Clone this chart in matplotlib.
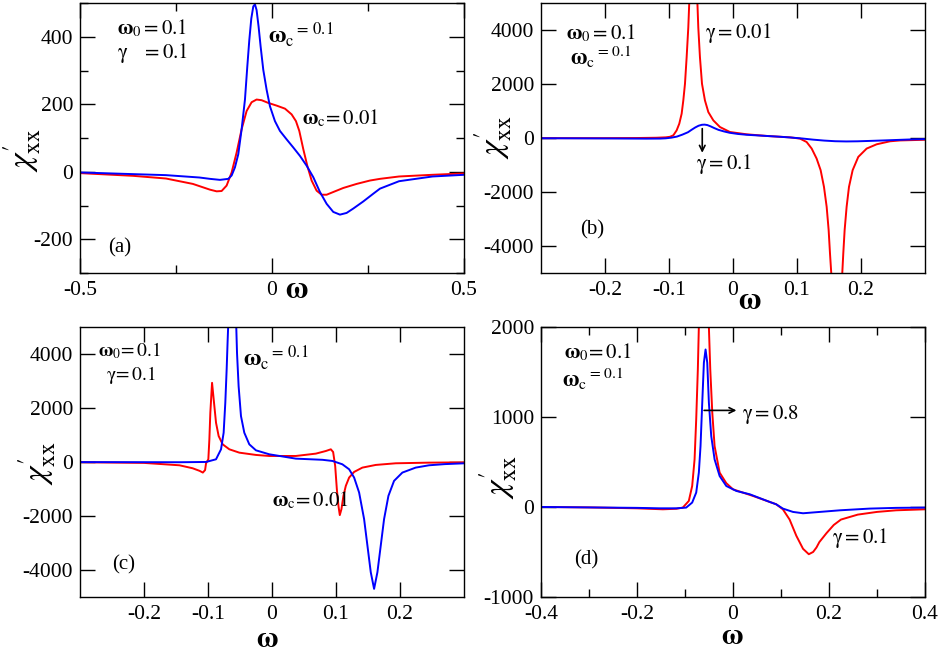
import matplotlib
matplotlib.use("Agg")
import matplotlib.pyplot as plt
from matplotlib.ticker import FixedLocator, FuncFormatter

plt.rcParams['font.family'] = 'serif'
plt.rcParams['font.serif'] = ['Liberation Serif', 'DejaVu Serif']
plt.rcParams['mathtext.fontset'] = 'stix'
plt.rcParams['axes.unicode_minus'] = False

RED = '#ff0000'
BLUE = '#0000ff'

# panel (a): omega0 = 0.1, gamma = 0.1 ; blue omega_c = 0.1, red omega_c = 0.01
a_blue_x = [-0.5, -0.362, -0.276, -0.189, -0.1615, -0.1354, -0.1137, -0.1050, -0.0964, -0.0877,
            -0.0790, -0.0703, -0.0642, -0.0590, -0.0538, -0.0486, -0.0443, -0.0400, -0.0348,
            -0.0295, -0.0226, -0.0139, -0.0052, 0.0078, 0.0208, 0.0382, 0.0555, 0.0729, 0.0903,
            0.1076, 0.1250, 0.1424, 0.1597, 0.1771, 0.1944, 0.2118, 0.2378, 0.2639, 0.2813,
            0.331, 0.418, 0.5]
a_blue_y = [-2, -7, -10, -17, -21, -24, -21, -11, 13, 52,
            126, 214, 312, 390, 454, 490, 496, 479, 430,
            371, 302, 243, 194, 150, 121, 96, 72, 47, 18,
            -16, -60, -95, -119, -127, -122, -109, -88, -65, -50,
            -28, -14, -9]
a_red_x = [-0.5, -0.362, -0.276, -0.206, -0.172, -0.1615, -0.1441, -0.1311, -0.1181, -0.1050,
           -0.0920, -0.0790, -0.0660, -0.0530, -0.0400, -0.0269, -0.0096, 0.0122, 0.0339, 0.0512,
           0.0625, 0.0712, 0.0816, 0.0920, 0.1033, 0.1163, 0.1293, 0.1424, 0.1597, 0.1858,
           0.2205, 0.2552, 0.2813, 0.331, 0.418, 0.5]
a_red_y = [-4, -12, -20, -36, -49, -53, -58, -57, -41, -2,
           57, 126, 180, 206, 214, 212, 204, 196, 187, 170,
           150, 121, 67, 18, -26, -56, -68, -68, -60, -48,
           -36, -26, -21, -14, -9, -5]

# panel (b): omega0 = 0.1, omega_c = 0.1 ; red gamma = 0.01, blue gamma = 0.1 (same curve as (a) blue)
b_red_x = [-0.3, -0.2, -0.15, -0.12, -0.105, -0.0985, -0.0932, -0.0880, -0.0839, -0.0802, -0.0776,
           -0.075, -0.0724, -0.0698, -0.0682, -0.0672, -0.062, -0.0567, -0.0557, -0.0542, -0.0516,
           -0.0484, -0.0438, -0.0385, -0.0307, -0.0203, -0.0047, 0.0214, 0.0552, 0.089, 0.1047,
           0.1151, 0.123, 0.1307, 0.137, 0.1422, 0.1464, 0.1495, 0.1516, 0.1536, 0.1545, 0.162,
           0.1699, 0.1708, 0.1724, 0.1745, 0.1776, 0.1813, 0.187, 0.1958, 0.2089, 0.2245, 0.2453,
           0.261, 0.3]
b_red_y = [-5, -5, 0, 10, 25, 45, 100, 284, 530, 900, 1392,
           2008, 2990, 4098, 5084, 5600, 12000, 5600, 5084, 4098, 2990,
           2008, 1392, 960, 653, 406, 222, 137, 72, 25, -22,
           -148, -391, -761, -1192, -1809, -2547, -3408, -4268, -5006, -5600, -12000,
           -5600, -5006, -4268, -3408, -2547, -1809, -1192, -700, -391, -233, -122,
           -90, -65]
b_blue_x = a_blue_x
b_blue_y = a_blue_y

# panel (c): red omega_c = 0.01, blue omega_c = 0.1
c_red_x = [-0.3, -0.2, -0.1446, -0.124, -0.113, -0.108, -0.1045, -0.103, -0.0994, -0.0978, -0.0963,
           -0.0936, -0.090, -0.0874, -0.0833, -0.0770, -0.0666, -0.051, -0.025, -0.0042, 0.0374,
           0.0686, 0.0842, 0.092, 0.0956, 0.0988, 0.1014, 0.1039, 0.106, 0.1086, 0.1117, 0.1154,
           0.1206, 0.1284, 0.1413, 0.1622, 0.1934, 0.2454, 0.3]
c_red_y = [-10, -35, -123, -233, -330, -393, -300, -49, 99, 837, 1823,
           2931, 2068, 1452, 960, 653, 469, 345, 260, 222, 222,
           309, 406, 469, 369, -148, -1008, -1624, -1968, -1746, -1255, -886,
           -577, -369, -209, -110, -49, -25, -15]
c_blue_x = [-0.3, -0.2, -0.1446, -0.103, -0.0874, -0.0796, -0.0755, -0.0729, -0.0708, -0.0692,
            -0.0675, -0.062, -0.0565, -0.0546, -0.0521, -0.0484, -0.0432, -0.0354, -0.025, -0.0042,
            0.0374, 0.079, 0.0946, 0.110, 0.1206, 0.1284, 0.1362, 0.144, 0.1492, 0.1544, 0.1596,
            0.1648, 0.17, 0.1752, 0.182, 0.1908, 0.2038, 0.2246, 0.2454, 0.27, 0.3]
c_blue_y = [-5, -8, -10, 0, 99, 469, 1083, 2193, 3422, 4530,
            5600, 12000, 5600, 4040, 2806, 1698, 1083, 653, 431, 284,
            123, 80, 37, -86, -271, -577, -1132, -2117, -3100, -4083, -4700,
            -4083, -3100, -2117, -1255, -700, -393, -209, -123, -80, -50]

# panel (d): omega0 = 0.1, omega_c = 0.1 ; red gamma = 0.1, blue gamma = 0.8
d_red_x = [-0.4, -0.3, -0.2, -0.146, -0.118, -0.1046, -0.092, -0.085, -0.080, -0.0766, -0.0732,
           -0.0711, -0.0700, -0.0606, -0.0512, -0.0502, -0.0473, -0.0431, -0.0383, -0.0278,
           -0.014, 0.0, 0.042, 0.0765, 0.09, 0.104, 0.118, 0.132, 0.146, 0.158, 0.167, 0.174,
           0.18, 0.195, 0.21, 0.225, 0.26, 0.3, 0.34, 0.4]
d_red_y = [0, -5, -15, -26, -20, -7, 67, 233, 529, 973, 1528,
           2000, 2300, 5000, 2300, 2000, 1528, 1048, 677, 382,
           265, 196, 122, 56, 30, -26, -140, -320, -465, -525, -500, -450,
           -390, -290, -200, -140, -85, -55, -37, -26]
d_blue_x = [-0.4, -0.3, -0.2, -0.153, -0.118, -0.0975, -0.085, -0.0766, -0.0711, -0.0676, -0.064,
            -0.0606, -0.0571, -0.0536, -0.0502, -0.0453, -0.0383, -0.0278, -0.0139, 0.007, 0.035,
            0.0765, 0.09, 0.104, 0.125, 0.146, 0.181, 0.223, 0.285, 0.34, 0.4]
d_blue_y = [0, -5, -10, -15, -15, -7, 49, 160, 382, 677, 1159,
            1603, 1750, 1603, 1159, 788, 529, 344, 233, 178, 141,
            56, 30, -18, -55, -70, -55, -37, -18, -10, -7]

YLABEL = r'$\chi^{\prime}_{\mathrm{xx}}$'
W0 = r'$\mathbf{\omega}_{0}$'
WC_SMALL = r'$\mathbf{\omega}_{\mathrm{c}}{}^{=\,0.1}$'


def style(ax, xlim, ylim, xmaj, ymaj, xmin=None, ymin=None):
    ax.set_xlim(xlim)
    ax.set_ylim(ylim)
    ax.xaxis.set_major_locator(FixedLocator(xmaj))
    ax.yaxis.set_major_locator(FixedLocator(ymaj))
    if xmin is not None:
        ax.xaxis.set_minor_locator(FixedLocator(xmin))
    if ymin is not None:
        ax.yaxis.set_minor_locator(FixedLocator(ymin))
    fmt = FuncFormatter(lambda v, p: '%g' % round(v, 6))
    ax.xaxis.set_major_formatter(fmt)
    ax.yaxis.set_major_formatter(fmt)
    ax.tick_params(which='both', direction='in', top=True, right=True, width=1.0)
    ax.tick_params(which='major', length=11, labelsize=15.5)
    ax.tick_params(which='minor', length=5.5)
    ax.tick_params(axis='x', pad=6)
    ax.tick_params(axis='y', pad=5)
    for s in ax.spines.values():
        s.set_linewidth(1.0)


def note(ax, x, y, s, size=15, **kw):
    ax.text(x, y, s, transform=ax.transAxes, fontsize=size, va='center', **kw)


fig = plt.figure(figsize=(9.42, 6.53), dpi=100)
ax_a = fig.add_axes([0.0849, 0.5819, 0.4076, 0.4135])
ax_b = fig.add_axes([0.5743, 0.5819, 0.4076, 0.4135])
ax_c = fig.add_axes([0.0849, 0.0858, 0.4076, 0.4135])
ax_d = fig.add_axes([0.5743, 0.0858, 0.4076, 0.4135])

# (a)
ax_a.plot(a_red_x, a_red_y, color=RED, lw=1.4)
ax_a.plot(a_blue_x, a_blue_y, color=BLUE, lw=1.4)
style(ax_a, (-0.5, 0.5), (-300, 500), [-0.5, 0, 0.5], [-200, 0, 200, 400],
      [-0.25, 0.25], [-300, -100, 100, 300, 500])
note(ax_a, 0.096, 0.907, W0 + r'$=0.1$')
note(ax_a, 0.096, 0.815, r'$\mathrm{\gamma}\ \ \ = 0.1$')
note(ax_a, 0.49, 0.885, WC_SMALL, 17)
note(ax_a, 0.578, 0.574, r'$\mathbf{\omega}_{\mathrm{c}}\!=0.01$')
note(ax_a, 0.073, 0.093, '(a)')
note(ax_a, 0.565, -0.063, r'$\mathbf{\omega}$', 22, ha='center')
note(ax_a, -0.151, 0.455, YLABEL, 24, rotation=90, ha='center')

# (b)
ax_b.plot(b_red_x, b_red_y, color=RED, lw=1.4)
ax_b.plot(b_blue_x, b_blue_y, color=BLUE, lw=1.4)
style(ax_b, (-0.3, 0.3), (-5000, 5000), [-0.2, -0.1, 0, 0.1, 0.2], [-4000, -2000, 0, 2000, 4000])
note(ax_b, 0.065, 0.889, W0 + r'$=0.1$')
note(ax_b, 0.076, 0.80, WC_SMALL, 16)
note(ax_b, 0.427, 0.889, r'$\mathrm{\gamma} = 0.01$')
note(ax_b, 0.405, 0.405, r'$\mathrm{\gamma} = 0.1$')
ax_b.annotate('', xy=(-0.048, -650), xytext=(-0.048, 450),
              arrowprops=dict(arrowstyle='->', color='black', lw=1.2))
note(ax_b, 0.102, 0.159, '(b)')
note(ax_b, 0.544, -0.107, r'$\mathbf{\omega}$', 22, ha='center')
note(ax_b, -0.125, 0.504, YLABEL, 24, rotation=90, ha='center')

# (c)
ax_c.plot(c_red_x, c_red_y, color=RED, lw=1.4)
ax_c.plot(c_blue_x, c_blue_y, color=BLUE, lw=1.4)
style(ax_c, (-0.3, 0.3), (-5000, 5000), [-0.2, -0.1, 0, 0.1, 0.2], [-4000, -2000, 0, 2000, 4000])
note(ax_c, 0.047, 0.912, W0 + r'$\!=0.1$', 14)
note(ax_c, 0.068, 0.822, r'$\mathrm{\gamma}\!=0.1$', 14)
note(ax_c, 0.424, 0.885, WC_SMALL, 17)
note(ax_c, 0.50, 0.359, r'$\mathbf{\omega}_{\mathrm{c}}\!=0.01$')
note(ax_c, 0.083, 0.119, '(c)')
note(ax_c, 0.487, -0.158, r'$\mathbf{\omega}$', 21, ha='center')
note(ax_c, -0.112, 0.496, YLABEL, 24, rotation=90, ha='center')

# (d)
ax_d.plot(d_red_x, d_red_y, color=RED, lw=1.4)
ax_d.plot(d_blue_x, d_blue_y, color=BLUE, lw=1.4)
style(ax_d, (-0.4, 0.4), (-1000, 2000), [-0.4, -0.2, 0, 0.2, 0.4], [-1000, 0, 1000, 2000],
      [-0.3, -0.1, 0.1, 0.3])
note(ax_d, 0.06, 0.904, W0 + r'$\!=0.1$')
note(ax_d, 0.055, 0.807, WC_SMALL, 16)
ax_d.annotate('', xy=(0.013, 1073), xytext=(-0.066, 1073),
              arrowprops=dict(arrowstyle='->', color='black', lw=1.2))
note(ax_d, 0.523, 0.674, r'$\mathrm{\gamma} = 0.8$')
note(ax_d, 0.758, 0.219, r'$\mathrm{\gamma} = 0.1$')
note(ax_d, 0.086, 0.137, '(d)')
note(ax_d, 0.497, -0.148, r'$\mathbf{\omega}$', 21, ha='center')
note(ax_d, -0.112, 0.444, YLABEL, 24, rotation=90, ha='center')

fig.savefig('out.png', dpi=100)
